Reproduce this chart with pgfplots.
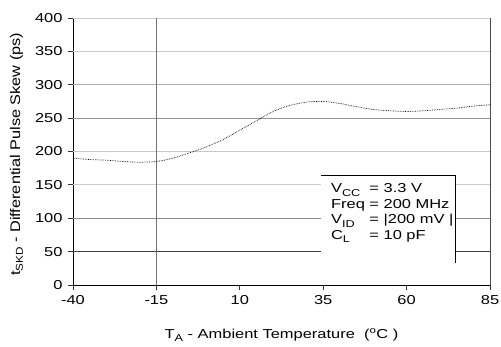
\documentclass[border=0pt]{standalone}
\usepackage{pgfplots}
\pgfplotsset{compat=1.18}
\usepackage{fontspec}
\setmainfont[FakeStretch=1.27]{Liberation Sans}
\newfontfamily\yfont[FakeStretch=1.17]{Liberation Sans}
\newcommand\sub[1]{\raisebox{-0.5ex}{\fontsize{10}{10}\selectfont #1}}
\newcommand\ysub[1]{\raisebox{-0.4ex}{\fontsize{10}{10}\selectfont #1}}
\begin{document}
\begin{tikzpicture}
\useasboundingbox (-73bp,-62bp) rectangle (428bp,285bp);
\begin{axis}[
  at={(0,0)}, anchor=south west,
  width=417bp, height=267bp, scale only axis,
  xmin=-40, xmax=85, ymin=0, ymax=400,
  xtick={-40,-15,10,35,60,85}, ytick={0,50,...,400},
  axis lines=left, axis line style={-, line width=0.8pt},
  tick align=outside, major tick length=5bp,
  tick style={black!80, line width=0.8pt},
  /pgf/number format/assume math mode=true,
  tick label style={font=\fontsize{13}{15}\selectfont},
  yticklabel style={xshift=-2bp},
  xticklabel style={yshift=-2bp},
  xlabel={T\sub{A} - Ambient Temperature~~(\textsuperscript{o}C )},
  ylabel={\yfont t\ysub{SKD} - Differential Pulse Skew (ps)},
  xlabel style={font=\fontsize{13}{15}\selectfont, at={(axis description cs:0.5,-0.1985)}, anchor=base},
  ylabel style={font=\fontsize{14}{16}\selectfont, at={(axis description cs:-0.127,0.49)}, anchor=base},
  clip=false,
]
\draw[black!20, line width=1pt] (axis cs:-40,400) -- (axis cs:85,400);
\draw[black!20, line width=1pt] (axis cs:-40,350) -- (axis cs:85,350);
\draw[black!32, line width=1pt] (axis cs:-40,300) -- (axis cs:85,300);
\draw[black!42, line width=1pt] (axis cs:-40,250) -- (axis cs:85,250);
\draw[black!22, line width=1pt] (axis cs:-40,200) -- (axis cs:85,200);
\draw[black!20, line width=1pt] (axis cs:-40,150) -- (axis cs:85,150);
\draw[black!45, line width=1pt] (axis cs:-40,100) -- (axis cs:85,100);
\draw[black!75, line width=1pt] (axis cs:-40,50) -- (axis cs:85,50);
\draw[black!55, line width=1pt] (axis cs:-15,0) -- (axis cs:-15,400);
\draw[black!70, line width=1pt] (axis cs:85,0) -- (axis cs:85,400);
\addplot[black, densely dotted, line width=0.7pt, smooth] coordinates {
(-40,190) (-35,188) (-30,187) (-25,185) (-20,184) (-15,185) (-10,190) (-5,198)
(0,207) (5,218) (10,232) (15,246) (20,260) (25,269) (30,274) (35,275) (40,272)
(45,267) (50,263) (55,261) (60,260) (65,261) (70,263) (75,265) (80,268) (85,270)};
\coordinate (bl) at (axis cs:34.3,33);
\coordinate (tl) at (axis cs:34.3,164.8);
\coordinate (tr) at (axis cs:74.5,164.8);
\coordinate (br) at (axis cs:74.5,33);
\coordinate (txt) at (axis cs:37.3,154.5);
\end{axis}
\fill[white] (bl) rectangle (tr);
\draw[black, line width=0.7pt] (tl) -- (tr) -- (br);
\node[anchor=north west, inner sep=0pt, font=\fontsize{13}{15.5}\selectfont] at (txt) {%
\begin{tabular}{@{}l@{\ }l@{}}
V\sub{CC} & = 3.3 V\\
Freq & = 200 MHz\\
V\sub{ID} & = |200 mV |\\
C\sub{L} & = 10 pF
\end{tabular}};
\end{tikzpicture}
\end{document}
